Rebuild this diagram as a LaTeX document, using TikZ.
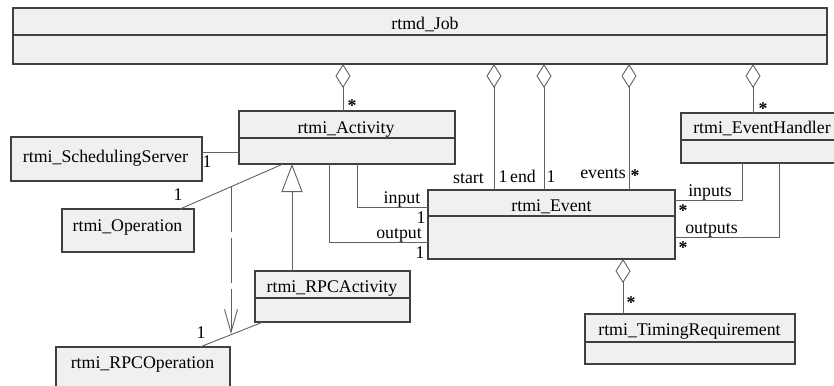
\documentclass[tikz,border=0pt]{standalone}
\usepackage{fontspec}
\setmainfont{Liberation Serif}
\usetikzlibrary{arrows.meta,calc}
\definecolor{boxfill}{HTML}{F0F0F0}
\definecolor{boxline}{HTML}{404040}
\definecolor{connline}{HTML}{606060}
\begin{document}
\begin{tikzpicture}[x=1pt,y=-1pt,
  every node/.style={font=\fontsize{17.8}{20}\selectfont, inner sep=0pt, outer sep=0pt},
  umlbox/.style={draw=boxline, fill=boxfill, line width=1.1pt, anchor=north west},
  divline/.style={draw=boxline, line width=1.1pt},
  title/.style={anchor=base},
  lbl/.style={anchor=base},
  mult/.style={anchor=base, font=\fontsize{17.8}{20}\selectfont\bfseries},
  conn/.style={draw=connline, line width=0.9pt},
  agg/.style={conn, {Diamond[open, length=24pt, width=15pt]}-},
  gen/.style={conn, -{Triangle[open, length=28pt, width=21pt]}},
  dep/.style={conn, dash pattern=on 45pt off 6pt, -{Straight Barb[length=23pt, width=13pt]}}
]
\clip (0,0) rectangle (834,385);

% classes
\node[umlbox, minimum width=814pt, minimum height=56pt] (job) at (13,8) {};
\draw[divline] ($(job.north west)+(0,27)$) -- ($(job.north east)+(0,27)$);
\node[title] at (425,30) {rtmd\_Job};

\node[umlbox, minimum width=216pt, minimum height=53pt] (act) at (239,111) {};
\draw[divline] ($(act.north west)+(0,27)$) -- ($(act.north east)+(0,27)$);
\node[title] at (346,133) {rtmi\_Activity};

\node[umlbox, minimum width=191pt, minimum height=44pt] (sched) at (11,137) {};
\node[title] at (105.5,162) {rtmi\_SchedulingServer};

\node[umlbox, minimum width=132pt, minimum height=43pt] (op) at (62,209) {};
\node[title] at (127.5,231) {rtmi\_Operation};

\node[umlbox, minimum width=155pt, minimum height=51pt] (rpcact) at (255,271) {};
\draw[divline] ($(rpcact.north west)+(0,27)$) -- ($(rpcact.north east)+(0,27)$);
\node[title] at (332,292) {rtmi\_RPCActivity};

\node[umlbox, minimum width=174pt, minimum height=60pt] (rpcop) at (56,347) {};
\node[title] at (142.5,368) {rtmi\_RPCOperation};

\node[umlbox, minimum width=247pt, minimum height=69pt] (ev) at (428,190) {};
\draw[divline] ($(ev.north west)+(0,26)$) -- ($(ev.north east)+(0,26)$);
\node[title] at (551.5,211) {rtmi\_Event};

\node[umlbox, minimum width=162pt, minimum height=50pt] (eh) at (681,113) {};
\draw[divline] ($(eh.north west)+(0,27)$) -- ($(eh.north east)+(0,27)$);
\node[title] at (762,133) {rtmi\_EventHandler};

\node[umlbox, minimum width=210pt, minimum height=50pt] (tr) at (585,314) {};
\draw[divline] ($(tr.north west)+(0,28)$) -- ($(tr.north east)+(0,28)$);
\node[title] at (689.5,335) {rtmi\_TimingRequirement};

% aggregations from the job
\draw[agg] ([xshift=-4pt]act.north |- job.south) -- ([xshift=-4pt]act.north);
\draw[agg] ([xshift=-57.5pt]ev.north |- job.south) -- ([xshift=-57.5pt]ev.north);
\draw[agg] ([xshift=-7.5pt]ev.north |- job.south) -- ([xshift=-7.5pt]ev.north);
\draw[agg] ([xshift=77.5pt]ev.north |- job.south) -- ([xshift=77.5pt]ev.north);
\draw[agg] ([xshift=-9pt]eh.north |- job.south) -- ([xshift=-9pt]eh.north);

% event to timing requirement
\draw[agg] ([xshift=71.5pt]ev.south) -- ([xshift=71.5pt]ev.south |- tr.north);

% associations
\draw[conn] ([yshift=7pt]sched.east) -- ([yshift=7pt]sched.east -| act.west);
\draw[conn] ([xshift=-64pt]act.south) -- ([xshift=52pt]op.north);
\draw[conn] ([xshift=-69.5pt]rpcact.south) -- ([xshift=57pt]rpcop.north);
\draw[conn] ([xshift=10pt]act.south) |- ([yshift=17.5pt]ev.west);
\draw[conn] ([xshift=-18pt]act.south) |- ([yshift=-17.5pt]ev.west);
\draw[conn] ([xshift=-20pt]eh.south) |- ([yshift=24.5pt]ev.east);
\draw[conn] ([xshift=17pt]eh.south) |- ([yshift=-12.5pt]ev.east);

% generalization
\draw[gen] ([xshift=-40.5pt]rpcact.north) -- ([xshift=-40.5pt]rpcact.north |- act.south);

% dependency
\coordinate (depA) at (231,187);
\coordinate (depB) at (231,334);
\draw[dep] (depA) -- (depB);

% role names and multiplicities
\node[mult] at (352,111) {*};
\node[mult] at (763,114) {*};
\node[lbl] at (207,167) {1};
\node[lbl] at (178,200) {1};
\node[lbl] at (201,338) {1};
\node[lbl] at (468.5,183) {start};
\node[lbl] at (503,182) {1};
\node[lbl] at (523,182) {end};
\node[lbl] at (551,182) {1};
\node[lbl] at (603,178) {events};
\node[mult] at (635,181) {*};
\node[lbl] at (402,203) {input};
\node[lbl] at (421,223) {1};
\node[lbl] at (399,238) {output};
\node[lbl] at (420,258) {1};
\node[lbl] at (710,196) {inputs};
\node[mult] at (683,216) {*};
\node[lbl] at (711.5,233) {outputs};
\node[mult] at (683,253) {*};
\node[mult] at (631,308) {*};
\end{tikzpicture}
\end{document}
